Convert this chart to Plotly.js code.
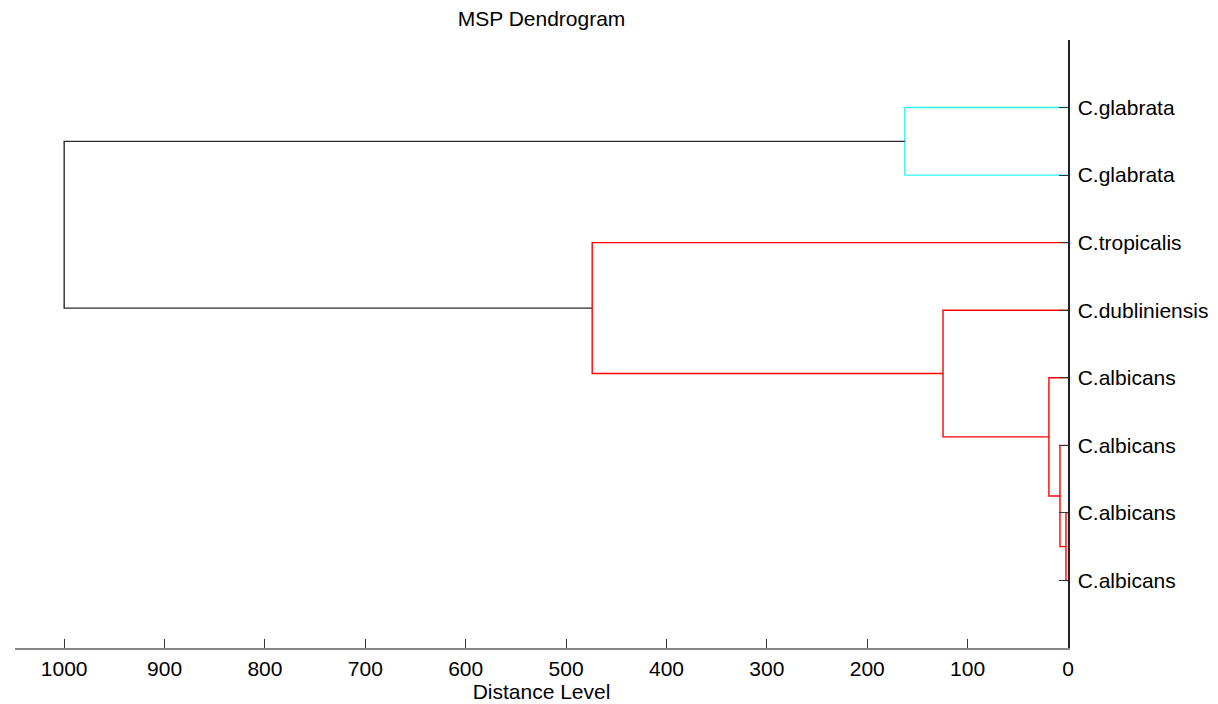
<!DOCTYPE html>
<html>
<head>
<meta charset="utf-8">
<script src="https://cdn.plot.ly/plotly-3.0.1.min.js"></script>
<style>html,body{margin:0;padding:0;background:#fff;}</style>
</head>
<body>
<div id="chart" style="width:1218px;height:704px;"></div>
<script>
// Leaf labels, top to bottom
var leafLabels = ['C.glabrata','C.glabrata','C.tropicalis','C.dubliniensis','C.albicans','C.albicans','C.albicans','C.albicans'];
// Merge list: node ids 0..7 are leaves, 8.. are clusters in order of creation
var mergeLeft  = [6, 5, 4, 3, 2, 0, 13];
var mergeRight = [7, 8, 9, 10, 11, 1, 12];
var mergeDist  = [2, 8, 19, 124.5, 474, 162.5, 1000];
var mergeColor = ['#ff0000','#ff0000','#ff0000','#ff0000','#ff0000','#2af2f5','#2a2a2a'];
var xTicks = [0,100,200,300,400,500,600,700,800,900,1000];

var nLeaf = leafLabels.length;
var pos = [], dist = [];
for (var i = 0; i < nLeaf; i++) { pos.push(i + 1); dist.push(0); }
var traces = [];
for (var m = 0; m < mergeLeft.length; m++) {
  var a = mergeLeft[m], b = mergeRight[m], d = mergeDist[m];
  traces.push({
    type: 'scatter', mode: 'lines',
    x: [dist[a], d, d, dist[b]],
    y: [pos[a], pos[a], pos[b], pos[b]],
    line: {color: mergeColor[m], width: 1.4},
    hoverinfo: 'skip', showlegend: false
  });
  pos.push((pos[a] + pos[b]) / 2);
  dist.push(d);
}

var fontFam = 'Liberation Sans, Arial, sans-serif';
var layout = {
  width: 1218, height: 704,
  margin: {l: 15, r: 150, t: 40, b: 56},
  paper_bgcolor: '#fff', plot_bgcolor: '#fff',
  font: {family: fontFam, color: '#000', size: 21},
  title: {text: 'MSP Dendrogram', x: 0.4446, xanchor: 'center', xref: 'container',
          y: 0.974, yanchor: 'middle', yref: 'container', font: {size: 21, family: fontFam, color: '#000'}},
  xaxis: {
    range: [1049, 0], tickvals: xTicks, ticktext: xTicks.map(String),
    ticks: 'inside', ticklen: 9, tickcolor: '#333', tickwidth: 1,
    showline: true, linecolor: '#888', linewidth: 2,
    showgrid: false, zeroline: false, tickfont: {size: 21},
    ticklabelstandoff: 1,
    title: {text: 'Distance Level', font: {size: 21}, standoff: 0}
  },
  yaxis: {
    side: 'right', range: [9, 0], tickvals: leafLabels.map(function(_, i){return i+1;}),
    ticktext: leafLabels, ticks: 'inside', ticklen: 9, tickcolor: '#333',
    showline: true, linecolor: '#222', linewidth: 1.5,
    showgrid: false, zeroline: false, tickfont: {size: 21},
    ticklabelstandoff: 4
  }
};
Plotly.newPlot('chart', traces, layout, {displayModeBar: false, staticPlot: true});
</script>
</body>
</html>
